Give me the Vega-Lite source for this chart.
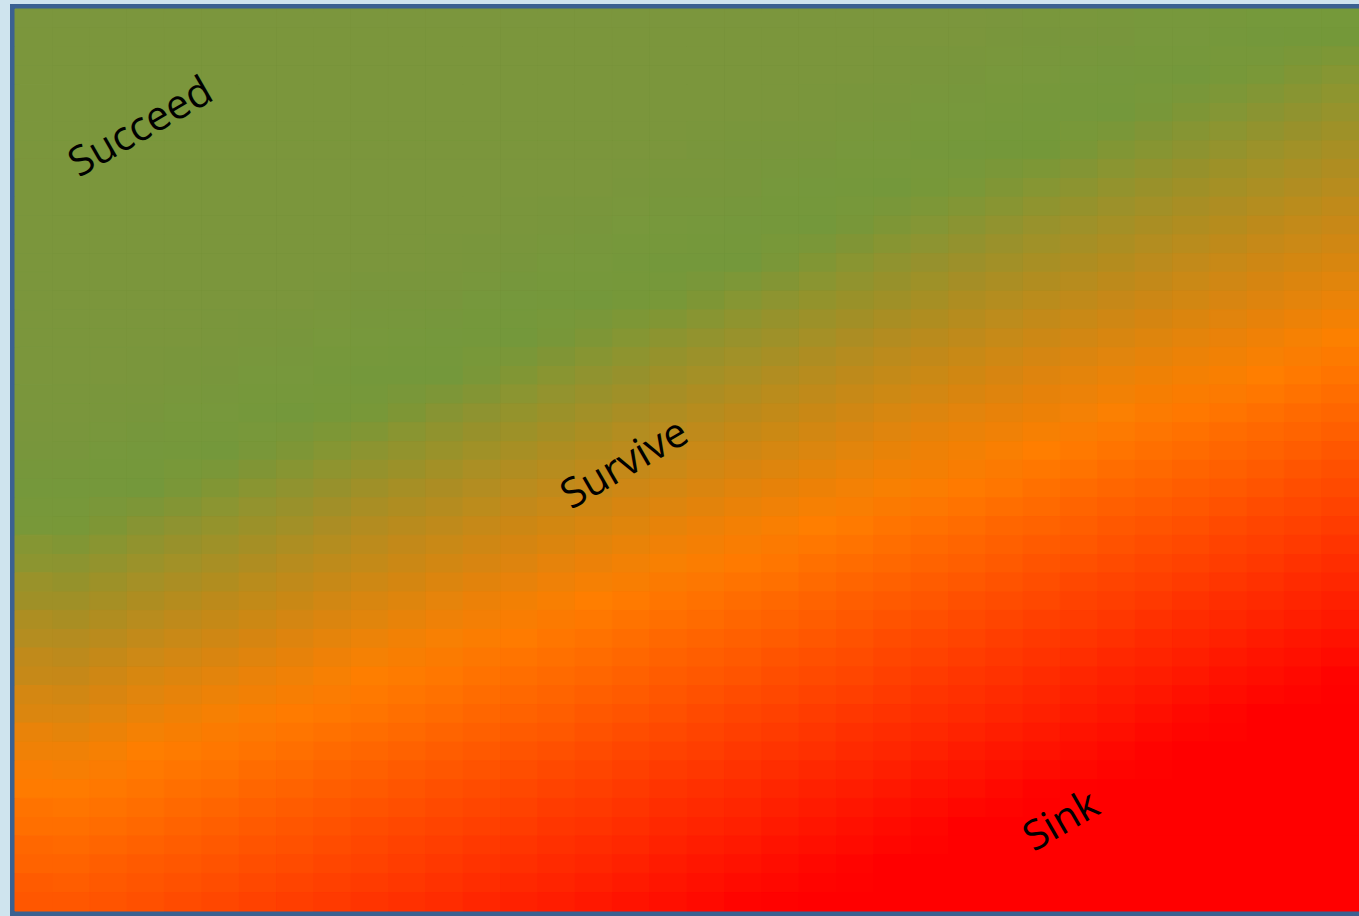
{
  "$schema": "https://vega.github.io/schema/vega-lite/v6.json",
  "autosize": {"type": "none"},
  "padding": {"left": 15, "top": 9, "right": 0, "bottom": 5},
  "width": 1344,
  "height": 902,
  "background": "#cfe4ee",
  "config": {"view": {"stroke": "#3b6191", "strokeWidth": 10}},
  "resolve": {"scale": {"x": "independent", "y": "independent"}},
  "data": {"values": [
        {"c":0,"r":0,"v":-0.5},{"c":0,"r":1,"v":-0.5},{"c":0,"r":2,"v":-0.5},{"c":0,"r":3,"v":-0.5},{"c":0,"r":4,"v":-0.5},{"c":0,"r":5,"v":-0.5},{"c":0,"r":6,"v":-0.5},{"c":0,"r":7,"v":-0.5},{"c":0,"r":8,"v":-0.5},{"c":0,"r":9,"v":-0.5},{"c":0,"r":10,"v":-0.4},{"c":0,"r":11,"v":-0.26},{"c":0,"r":12,"v":-0.11},{"c":0,"r":13,"v":0.03},{"c":0,"r":14,"v":0.17},{"c":0,"r":15,"v":0.32},{"c":0,"r":16,"v":0.46},{"c":0,"r":17,"v":0.6},{"c":0,"r":18,"v":0.75},{"c":0,"r":19,"v":0.89},{"c":0,"r":20,"v":1.02},{"c":0,"r":21,"v":1.12},{"c":0,"r":22,"v":1.21},{"c":0,"r":23,"v":1.31},
        {"c":1,"r":0,"v":-0.5},{"c":1,"r":1,"v":-0.5},{"c":1,"r":2,"v":-0.5},{"c":1,"r":3,"v":-0.5},{"c":1,"r":4,"v":-0.5},{"c":1,"r":5,"v":-0.5},{"c":1,"r":6,"v":-0.5},{"c":1,"r":7,"v":-0.5},{"c":1,"r":8,"v":-0.5},{"c":1,"r":9,"v":-0.43},{"c":1,"r":10,"v":-0.29},{"c":1,"r":11,"v":-0.15},{"c":1,"r":12,"v":0.0},{"c":1,"r":13,"v":0.14},{"c":1,"r":14,"v":0.28},{"c":1,"r":15,"v":0.42},{"c":1,"r":16,"v":0.56},{"c":1,"r":17,"v":0.71},{"c":1,"r":18,"v":0.85},{"c":1,"r":19,"v":0.99},{"c":1,"r":20,"v":1.09},{"c":1,"r":21,"v":1.18},{"c":1,"r":22,"v":1.28},{"c":1,"r":23,"v":1.37},
        {"c":2,"r":0,"v":-0.5},{"c":2,"r":1,"v":-0.5},{"c":2,"r":2,"v":-0.5},{"c":2,"r":3,"v":-0.5},{"c":2,"r":4,"v":-0.5},{"c":2,"r":5,"v":-0.5},{"c":2,"r":6,"v":-0.5},{"c":2,"r":7,"v":-0.5},{"c":2,"r":8,"v":-0.46},{"c":2,"r":9,"v":-0.32},{"c":2,"r":10,"v":-0.18},{"c":2,"r":11,"v":-0.04},{"c":2,"r":12,"v":0.1},{"c":2,"r":13,"v":0.24},{"c":2,"r":14,"v":0.38},{"c":2,"r":15,"v":0.52},{"c":2,"r":16,"v":0.66},{"c":2,"r":17,"v":0.8},{"c":2,"r":18,"v":0.94},{"c":2,"r":19,"v":1.06},{"c":2,"r":20,"v":1.15},{"c":2,"r":21,"v":1.25},{"c":2,"r":22,"v":1.35},{"c":2,"r":23,"v":1.44},
        {"c":3,"r":0,"v":-0.5},{"c":3,"r":1,"v":-0.5},{"c":3,"r":2,"v":-0.5},{"c":3,"r":3,"v":-0.5},{"c":3,"r":4,"v":-0.5},{"c":3,"r":5,"v":-0.5},{"c":3,"r":6,"v":-0.5},{"c":3,"r":7,"v":-0.49},{"c":3,"r":8,"v":-0.35},{"c":3,"r":9,"v":-0.21},{"c":3,"r":10,"v":-0.07},{"c":3,"r":11,"v":0.07},{"c":3,"r":12,"v":0.21},{"c":3,"r":13,"v":0.34},{"c":3,"r":14,"v":0.48},{"c":3,"r":15,"v":0.62},{"c":3,"r":16,"v":0.76},{"c":3,"r":17,"v":0.9},{"c":3,"r":18,"v":1.03},{"c":3,"r":19,"v":1.12},{"c":3,"r":20,"v":1.22},{"c":3,"r":21,"v":1.32},{"c":3,"r":22,"v":1.41},{"c":3,"r":23,"v":1.51},
        {"c":4,"r":0,"v":-0.5},{"c":4,"r":1,"v":-0.5},{"c":4,"r":2,"v":-0.5},{"c":4,"r":3,"v":-0.5},{"c":4,"r":4,"v":-0.5},{"c":4,"r":5,"v":-0.5},{"c":4,"r":6,"v":-0.5},{"c":4,"r":7,"v":-0.38},{"c":4,"r":8,"v":-0.24},{"c":4,"r":9,"v":-0.1},{"c":4,"r":10,"v":0.03},{"c":4,"r":11,"v":0.17},{"c":4,"r":12,"v":0.31},{"c":4,"r":13,"v":0.45},{"c":4,"r":14,"v":0.58},{"c":4,"r":15,"v":0.72},{"c":4,"r":16,"v":0.86},{"c":4,"r":17,"v":0.99},{"c":4,"r":18,"v":1.09},{"c":4,"r":19,"v":1.19},{"c":4,"r":20,"v":1.29},{"c":4,"r":21,"v":1.39},{"c":4,"r":22,"v":1.48},{"c":4,"r":23,"v":1.58},
        {"c":5,"r":0,"v":-0.5},{"c":5,"r":1,"v":-0.5},{"c":5,"r":2,"v":-0.5},{"c":5,"r":3,"v":-0.5},{"c":5,"r":4,"v":-0.5},{"c":5,"r":5,"v":-0.5},{"c":5,"r":6,"v":-0.41},{"c":5,"r":7,"v":-0.27},{"c":5,"r":8,"v":-0.14},{"c":5,"r":9,"v":0.0},{"c":5,"r":10,"v":0.14},{"c":5,"r":11,"v":0.27},{"c":5,"r":12,"v":0.41},{"c":5,"r":13,"v":0.54},{"c":5,"r":14,"v":0.68},{"c":5,"r":15,"v":0.82},{"c":5,"r":16,"v":0.95},{"c":5,"r":17,"v":1.06},{"c":5,"r":18,"v":1.16},{"c":5,"r":19,"v":1.26},{"c":5,"r":20,"v":1.36},{"c":5,"r":21,"v":1.46},{"c":5,"r":22,"v":1.56},{"c":5,"r":23,"v":1.65},
        {"c":6,"r":0,"v":-0.5},{"c":6,"r":1,"v":-0.5},{"c":6,"r":2,"v":-0.5},{"c":6,"r":3,"v":-0.5},{"c":6,"r":4,"v":-0.5},{"c":6,"r":5,"v":-0.44},{"c":6,"r":6,"v":-0.3},{"c":6,"r":7,"v":-0.17},{"c":6,"r":8,"v":-0.03},{"c":6,"r":9,"v":0.1},{"c":6,"r":10,"v":0.24},{"c":6,"r":11,"v":0.37},{"c":6,"r":12,"v":0.5},{"c":6,"r":13,"v":0.64},{"c":6,"r":14,"v":0.77},{"c":6,"r":15,"v":0.91},{"c":6,"r":16,"v":1.03},{"c":6,"r":17,"v":1.13},{"c":6,"r":18,"v":1.23},{"c":6,"r":19,"v":1.33},{"c":6,"r":20,"v":1.43},{"c":6,"r":21,"v":1.53},{"c":6,"r":22,"v":1.63},{"c":6,"r":23,"v":1.73},
        {"c":7,"r":0,"v":-0.5},{"c":7,"r":1,"v":-0.5},{"c":7,"r":2,"v":-0.5},{"c":7,"r":3,"v":-0.5},{"c":7,"r":4,"v":-0.47},{"c":7,"r":5,"v":-0.33},{"c":7,"r":6,"v":-0.2},{"c":7,"r":7,"v":-0.07},{"c":7,"r":8,"v":0.07},{"c":7,"r":9,"v":0.2},{"c":7,"r":10,"v":0.33},{"c":7,"r":11,"v":0.47},{"c":7,"r":12,"v":0.6},{"c":7,"r":13,"v":0.73},{"c":7,"r":14,"v":0.87},{"c":7,"r":15,"v":1.0},{"c":7,"r":16,"v":1.1},{"c":7,"r":17,"v":1.2},{"c":7,"r":18,"v":1.3},{"c":7,"r":19,"v":1.4},{"c":7,"r":20,"v":1.5},{"c":7,"r":21,"v":1.6},{"c":7,"r":22,"v":1.7},{"c":7,"r":23,"v":1.8},
        {"c":8,"r":0,"v":-0.5},{"c":8,"r":1,"v":-0.5},{"c":8,"r":2,"v":-0.5},{"c":8,"r":3,"v":-0.49},{"c":8,"r":4,"v":-0.36},{"c":8,"r":5,"v":-0.23},{"c":8,"r":6,"v":-0.1},{"c":8,"r":7,"v":0.03},{"c":8,"r":8,"v":0.17},{"c":8,"r":9,"v":0.3},{"c":8,"r":10,"v":0.43},{"c":8,"r":11,"v":0.56},{"c":8,"r":12,"v":0.69},{"c":8,"r":13,"v":0.83},{"c":8,"r":14,"v":0.96},{"c":8,"r":15,"v":1.07},{"c":8,"r":16,"v":1.17},{"c":8,"r":17,"v":1.27},{"c":8,"r":18,"v":1.37},{"c":8,"r":19,"v":1.47},{"c":8,"r":20,"v":1.58},{"c":8,"r":21,"v":1.68},{"c":8,"r":22,"v":1.78},{"c":8,"r":23,"v":1.88},
        {"c":9,"r":0,"v":-0.5},{"c":9,"r":1,"v":-0.5},{"c":9,"r":2,"v":-0.5},{"c":9,"r":3,"v":-0.39},{"c":9,"r":4,"v":-0.26},{"c":9,"r":5,"v":-0.13},{"c":9,"r":6,"v":0.0},{"c":9,"r":7,"v":0.13},{"c":9,"r":8,"v":0.26},{"c":9,"r":9,"v":0.39},{"c":9,"r":10,"v":0.52},{"c":9,"r":11,"v":0.66},{"c":9,"r":12,"v":0.79},{"c":9,"r":13,"v":0.92},{"c":9,"r":14,"v":1.04},{"c":9,"r":15,"v":1.14},{"c":9,"r":16,"v":1.24},{"c":9,"r":17,"v":1.34},{"c":9,"r":18,"v":1.45},{"c":9,"r":19,"v":1.55},{"c":9,"r":20,"v":1.65},{"c":9,"r":21,"v":1.75},{"c":9,"r":22,"v":1.86},{"c":9,"r":23,"v":1.96},
        {"c":10,"r":0,"v":-0.5},{"c":10,"r":1,"v":-0.5},{"c":10,"r":2,"v":-0.42},{"c":10,"r":3,"v":-0.29},{"c":10,"r":4,"v":-0.16},{"c":10,"r":5,"v":-0.03},{"c":10,"r":6,"v":0.1},{"c":10,"r":7,"v":0.23},{"c":10,"r":8,"v":0.36},{"c":10,"r":9,"v":0.49},{"c":10,"r":10,"v":0.62},{"c":10,"r":11,"v":0.75},{"c":10,"r":12,"v":0.88},{"c":10,"r":13,"v":1.0},{"c":10,"r":14,"v":1.11},{"c":10,"r":15,"v":1.21},{"c":10,"r":16,"v":1.31},{"c":10,"r":17,"v":1.42},{"c":10,"r":18,"v":1.52},{"c":10,"r":19,"v":1.62},{"c":10,"r":20,"v":1.73},{"c":10,"r":21,"v":1.83},{"c":10,"r":22,"v":1.93},{"c":10,"r":23,"v":2},
        {"c":11,"r":0,"v":-0.5},{"c":11,"r":1,"v":-0.44},{"c":11,"r":2,"v":-0.32},{"c":11,"r":3,"v":-0.19},{"c":11,"r":4,"v":-0.06},{"c":11,"r":5,"v":0.07},{"c":11,"r":6,"v":0.2},{"c":11,"r":7,"v":0.32},{"c":11,"r":8,"v":0.45},{"c":11,"r":9,"v":0.58},{"c":11,"r":10,"v":0.71},{"c":11,"r":11,"v":0.84},{"c":11,"r":12,"v":0.96},{"c":11,"r":13,"v":1.08},{"c":11,"r":14,"v":1.18},{"c":11,"r":15,"v":1.28},{"c":11,"r":16,"v":1.39},{"c":11,"r":17,"v":1.49},{"c":11,"r":18,"v":1.6},{"c":11,"r":19,"v":1.7},{"c":11,"r":20,"v":1.81},{"c":11,"r":21,"v":1.91},{"c":11,"r":22,"v":2},{"c":11,"r":23,"v":2},
        {"c":12,"r":0,"v":-0.47},{"c":12,"r":1,"v":-0.34},{"c":12,"r":2,"v":-0.22},{"c":12,"r":3,"v":-0.09},{"c":12,"r":4,"v":0.04},{"c":12,"r":5,"v":0.16},{"c":12,"r":6,"v":0.29},{"c":12,"r":7,"v":0.42},{"c":12,"r":8,"v":0.54},{"c":12,"r":9,"v":0.67},{"c":12,"r":10,"v":0.8},{"c":12,"r":11,"v":0.92},{"c":12,"r":12,"v":1.04},{"c":12,"r":13,"v":1.15},{"c":12,"r":14,"v":1.25},{"c":12,"r":15,"v":1.36},{"c":12,"r":16,"v":1.46},{"c":12,"r":17,"v":1.57},{"c":12,"r":18,"v":1.67},{"c":12,"r":19,"v":1.78},{"c":12,"r":20,"v":1.88},{"c":12,"r":21,"v":1.99},{"c":12,"r":22,"v":2},{"c":12,"r":23,"v":2},
        {"c":13,"r":0,"v":-0.37},{"c":13,"r":1,"v":-0.25},{"c":13,"r":2,"v":-0.12},{"c":13,"r":3,"v":0.01},{"c":13,"r":4,"v":0.13},{"c":13,"r":5,"v":0.26},{"c":13,"r":6,"v":0.38},{"c":13,"r":7,"v":0.51},{"c":13,"r":8,"v":0.63},{"c":13,"r":9,"v":0.76},{"c":13,"r":10,"v":0.88},{"c":13,"r":11,"v":1.01},{"c":13,"r":12,"v":1.11},{"c":13,"r":13,"v":1.22},{"c":13,"r":14,"v":1.33},{"c":13,"r":15,"v":1.43},{"c":13,"r":16,"v":1.54},{"c":13,"r":17,"v":1.65},{"c":13,"r":18,"v":1.75},{"c":13,"r":19,"v":1.86},{"c":13,"r":20,"v":1.97},{"c":13,"r":21,"v":2},{"c":13,"r":22,"v":2},{"c":13,"r":23,"v":2},
        {"c":14,"r":0,"v":-0.27},{"c":14,"r":1,"v":-0.15},{"c":14,"r":2,"v":-0.02},{"c":14,"r":3,"v":0.1},{"c":14,"r":4,"v":0.22},{"c":14,"r":5,"v":0.35},{"c":14,"r":6,"v":0.47},{"c":14,"r":7,"v":0.6},{"c":14,"r":8,"v":0.72},{"c":14,"r":9,"v":0.85},{"c":14,"r":10,"v":0.97},{"c":14,"r":11,"v":1.08},{"c":14,"r":12,"v":1.19},{"c":14,"r":13,"v":1.3},{"c":14,"r":14,"v":1.4},{"c":14,"r":15,"v":1.51},{"c":14,"r":16,"v":1.62},{"c":14,"r":17,"v":1.73},{"c":14,"r":18,"v":1.83},{"c":14,"r":19,"v":1.94},{"c":14,"r":20,"v":2},{"c":14,"r":21,"v":2},{"c":14,"r":22,"v":2},{"c":14,"r":23,"v":2},
        {"c":15,"r":0,"v":-0.18},{"c":15,"r":1,"v":-0.05},{"c":15,"r":2,"v":0.07},{"c":15,"r":3,"v":0.19},{"c":15,"r":4,"v":0.32},{"c":15,"r":5,"v":0.44},{"c":15,"r":6,"v":0.56},{"c":15,"r":7,"v":0.68},{"c":15,"r":8,"v":0.81},{"c":15,"r":9,"v":0.93},{"c":15,"r":10,"v":1.05},{"c":15,"r":11,"v":1.16},{"c":15,"r":12,"v":1.26},{"c":15,"r":13,"v":1.37},{"c":15,"r":14,"v":1.48},{"c":15,"r":15,"v":1.59},{"c":15,"r":16,"v":1.7},{"c":15,"r":17,"v":1.81},{"c":15,"r":18,"v":1.92},{"c":15,"r":19,"v":2},{"c":15,"r":20,"v":2},{"c":15,"r":21,"v":2},{"c":15,"r":22,"v":2},{"c":15,"r":23,"v":2},
        {"c":16,"r":0,"v":-0.08},{"c":16,"r":1,"v":0.04},{"c":16,"r":2,"v":0.16},{"c":16,"r":3,"v":0.28},{"c":16,"r":4,"v":0.4},{"c":16,"r":5,"v":0.53},{"c":16,"r":6,"v":0.65},{"c":16,"r":7,"v":0.77},{"c":16,"r":8,"v":0.89},{"c":16,"r":9,"v":1.01},{"c":16,"r":10,"v":1.12},{"c":16,"r":11,"v":1.23},{"c":16,"r":12,"v":1.34},{"c":16,"r":13,"v":1.45},{"c":16,"r":14,"v":1.56},{"c":16,"r":15,"v":1.67},{"c":16,"r":16,"v":1.78},{"c":16,"r":17,"v":1.89},{"c":16,"r":18,"v":2},{"c":16,"r":19,"v":2},{"c":16,"r":20,"v":2},{"c":16,"r":21,"v":2},{"c":16,"r":22,"v":2},{"c":16,"r":23,"v":2},
        {"c":17,"r":0,"v":0.01},{"c":17,"r":1,"v":0.13},{"c":17,"r":2,"v":0.25},{"c":17,"r":3,"v":0.37},{"c":17,"r":4,"v":0.49},{"c":17,"r":5,"v":0.61},{"c":17,"r":6,"v":0.73},{"c":17,"r":7,"v":0.85},{"c":17,"r":8,"v":0.98},{"c":17,"r":9,"v":1.09},{"c":17,"r":10,"v":1.2},{"c":17,"r":11,"v":1.31},{"c":17,"r":12,"v":1.42},{"c":17,"r":13,"v":1.53},{"c":17,"r":14,"v":1.64},{"c":17,"r":15,"v":1.75},{"c":17,"r":16,"v":1.86},{"c":17,"r":17,"v":1.97},{"c":17,"r":18,"v":2},{"c":17,"r":19,"v":2},{"c":17,"r":20,"v":2},{"c":17,"r":21,"v":2},{"c":17,"r":22,"v":2},{"c":17,"r":23,"v":2}
  ]},
  "encoding": {
    "x": {"field": "c", "type": "ordinal", "axis": null, "scale": {"paddingInner": 0, "paddingOuter": 0}},
    "y": {"field": "r", "type": "ordinal", "axis": null, "scale": {"paddingInner": 0, "paddingOuter": 0}},
    "color": {"field": "v", "type": "quantitative", "legend": null,
      "scale": {"domain": [-0.5, 0, 1, 2], "range": ["#7b963d", "#74993b", "#ff7f00", "#ff0000"], "interpolate": "rgb", "clamp": true}}
  },
  "layer": [
    {
      "mark": {"type": "rect", "strokeWidth": 1},
      "encoding": {
        "stroke": {"field": "v", "type": "quantitative", "legend": null,
          "scale": {"domain": [-0.5, 0, 1, 2], "range": ["#7b963d", "#74993b", "#ff7f00", "#ff0000"], "interpolate": "rgb", "clamp": true}}
      }
    },
    {
      "mark": {"type": "rect", "clip": true, "xOffset": 37.33, "opacity": 0.5}
    },
    {
      "mark": {"type": "rect", "clip": true, "yOffset": 18.79, "opacity": 0.3333}
    },
    {
      "mark": {"type": "rect", "clip": true, "xOffset": 37.33, "yOffset": 18.79, "opacity": 0.25}
    },
    {
      "data": {"values": [
        {"label": "Succeed", "x": 1.69, "y": 3.17},
        {"label": "Survive", "x": 8.17, "y": 12.13},
        {"label": "Sink", "x": 14.02, "y": 21.63}
      ]},
      "mark": {"type": "text", "angle": -30, "font": "Open Sans", "fontSize": 41, "color": "#000000", "align": "center", "baseline": "middle"},
      "encoding": {
        "x": {"field": "x", "type": "quantitative", "axis": null, "scale": {"domain": [0, 18], "nice": false}},
        "y": {"field": "y", "type": "quantitative", "axis": null, "scale": {"domain": [0, 24], "nice": false, "reverse": true}},
        "color": {"value": "#000000"},
        "text": {"field": "label"}
      }
    }
  ]
}
